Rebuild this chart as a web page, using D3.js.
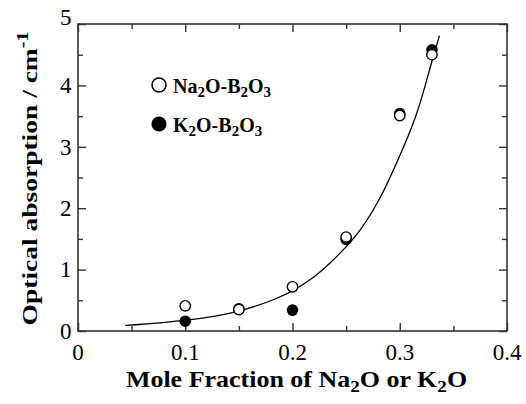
<!DOCTYPE html>
<html>
<head>
<meta charset="utf-8">
<script src="https://cdn.jsdelivr.net/npm/d3@7"></script>
<style>
  html, body { margin: 0; padding: 0; background: #fff; }
  svg { display: block; }
</style>
</head>
<body>
<svg id="chart" width="526" height="404"></svg>
<script>
// Measured optical absorption of alkali borate glasses
const naFraction = [0.10, 0.15, 0.20, 0.25, 0.30, 0.33];
const naAbsorption = [0.41, 0.35, 0.72, 1.53, 3.51, 4.50];
const kFraction = [0.10, 0.15, 0.20, 0.25, 0.30, 0.33];
const kAbsorption = [0.16, 0.36, 0.34, 1.49, 3.54, 4.58];

// Fitted trend line through both series
const fitFraction = [0.044, 0.10, 0.15, 0.188, 0.204, 0.22, 0.235, 0.25, 0.263, 0.28, 0.29, 0.30, 0.313, 0.322, 0.33, 0.337];
const fitAbsorption = [0.09, 0.16, 0.30, 0.54, 0.69, 0.87, 1.10, 1.37, 1.62, 2.10, 2.46, 2.85, 3.38, 3.88, 4.40, 4.81];

const xTicks = [0, 0.1, 0.2, 0.3, 0.4];
const xTickLabels = ["0", "0.1", "0.2", "0.3", "0.4"];
const yTicks = [0, 1, 2, 3, 4, 5];
const yTickLabels = ["0", "1", "2", "3", "4", "5"];
const xMinor = [0.05, 0.15, 0.25, 0.35];
const yMinor = [0.5, 1.5, 2.5, 3.5, 4.5];

const serif = "Liberation Serif, Times New Roman, Times, serif";
const svg = d3.select("#chart").attr("font-family", serif);
const margin = { left: 78, right: 19, top: 24, bottom: 73 };
const W = 526, H = 404;
const x = d3.scaleLinear().domain([0, 0.4]).range([margin.left, W - margin.right]);
const y = d3.scaleLinear().domain([0, 5]).range([H - margin.bottom, margin.top]);

const axisColor = "#333";
const tickFont = 23;

// Inward ticks on all four sides
function drawAxis(gen, tx, ty, values, size) {
  svg.append("g")
    .attr("transform", `translate(${tx},${ty})`)
    .call(gen.tickValues(values).tickSize(size).tickFormat(""))
    .call(g => g.select(".domain").remove())
    .call(g => g.selectAll("line").attr("stroke", axisColor).attr("stroke-width", 1.4));
}
const bottomY = y(0), topY = y(5), leftX = x(0), rightX = x(0.4);
drawAxis(d3.axisTop(x), 0, bottomY, xTicks, 8);
drawAxis(d3.axisTop(x), 0, bottomY, xMinor, 5);
drawAxis(d3.axisBottom(x), 0, topY, xTicks, 8);
drawAxis(d3.axisBottom(x), 0, topY, xMinor, 5);
drawAxis(d3.axisRight(y), leftX, 0, yTicks, 8);
drawAxis(d3.axisRight(y), leftX, 0, yMinor, 5);
drawAxis(d3.axisLeft(y), rightX, 0, yTicks, 8);
drawAxis(d3.axisLeft(y), rightX, 0, yMinor, 5);

// Frame
svg.append("rect")
  .attr("x", leftX).attr("y", topY)
  .attr("width", rightX - leftX).attr("height", bottomY - topY)
  .attr("fill", "none").attr("stroke", axisColor).attr("stroke-width", 1.6);

// Tick labels
svg.append("g").selectAll("text").data(xTicks).join("text")
  .attr("x", d => x(d)).attr("y", bottomY + 29)
  .attr("text-anchor", "middle").attr("font-size", tickFont).attr("fill", "#000")
  .text((d, i) => xTickLabels[i]);
svg.append("g").selectAll("text").data(yTicks).join("text")
  .attr("x", leftX - 6.5).attr("y", d => y(d) + (d === 5 ? 1 : 7.8))
  .attr("text-anchor", "end").attr("font-size", tickFont).attr("fill", "#000")
  .text((d, i) => yTickLabels[i]);

// Axis titles (bold, slightly widened lettering)
const xTitle = svg.append("text")
  .attr("transform", `translate(${(leftX + rightX) / 2 + 4},387) scale(1.13,1)`)
  .attr("text-anchor", "middle").attr("font-size", 23).attr("font-weight", "bold");
xTitle.append("tspan").text("Mole Fraction of Na");
xTitle.append("tspan").attr("font-size", 17).attr("dy", 5).text("2");
xTitle.append("tspan").attr("dy", -5).text("O or K");
xTitle.append("tspan").attr("font-size", 17).attr("dy", 5).text("2");
xTitle.append("tspan").attr("dy", -5).text("O");

const yTitle = svg.append("text")
  .attr("transform", `translate(37,${(topY + bottomY) / 2 + 1}) rotate(-90) scale(1.25,1)`)
  .attr("text-anchor", "middle").attr("font-size", 22).attr("font-weight", "bold");
yTitle.append("tspan").text("Optical absorption / cm");
yTitle.append("tspan").attr("font-size", 16).attr("dy", -9).text("-1");

// Trend line
const line = d3.line().x(d => x(d[0])).y(d => y(d[1])).curve(d3.curveBasis);
svg.append("path")
  .datum(fitFraction.map((f, i) => [f, fitAbsorption[i]]))
  .attr("d", line).attr("fill", "none").attr("stroke", "#000").attr("stroke-width", 1.3);

// Markers: K2O-B2O3 filled, Na2O-B2O3 open (drawn on top)
const r = 5.2;
svg.append("g").selectAll("circle").data(kFraction).join("circle")
  .attr("cx", d => x(d)).attr("cy", (d, i) => y(kAbsorption[i])).attr("r", r + 0.6)
  .attr("fill", "#000");
svg.append("g").selectAll("circle").data(naFraction).join("circle")
  .attr("cx", d => x(d)).attr("cy", (d, i) => y(naAbsorption[i])).attr("r", r)
  .attr("fill", "#fff").attr("stroke", "#000").attr("stroke-width", 1.4);

// Legend
const legend = [
  { label: ["Na", "2", "O-B", "2", "O", "3"], filled: false, cy: 85 },
  { label: ["K", "2", "O-B", "2", "O", "3"], filled: true, cy: 124 }
];
legend.forEach(item => {
  svg.append("circle")
    .attr("cx", 159).attr("cy", item.cy).attr("r", item.filled ? 7.6 : 7.0)
    .attr("fill", item.filled ? "#000" : "#fff")
    .attr("stroke", "#000").attr("stroke-width", item.filled ? 0 : 1.5);
  const t = svg.append("text")
    .attr("x", 173).attr("y", item.cy + 8)
    .attr("font-size", 20).attr("font-weight", "bold");
  item.label.forEach((s, i) => {
    const sub = i % 2 === 1;
    t.append("tspan").attr("font-size", sub ? 15 : 20)
      .attr("dy", i === 0 ? 0 : (sub ? 4 : -4)).text(s);
  });
});
</script>
</body>
</html>
